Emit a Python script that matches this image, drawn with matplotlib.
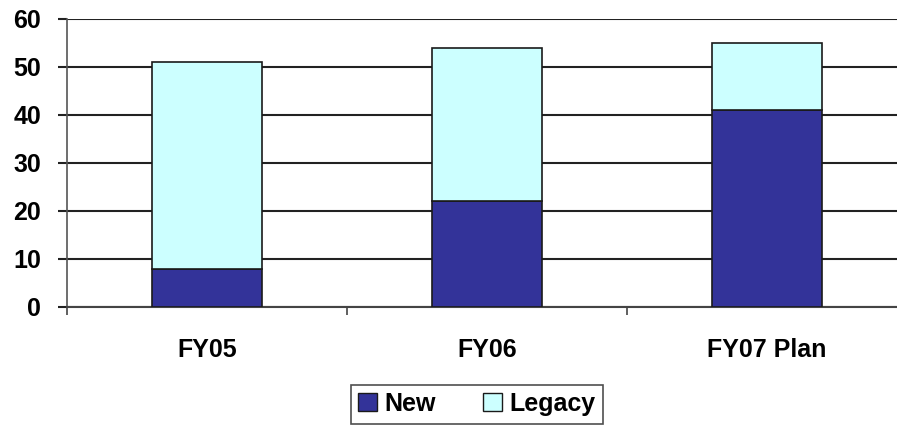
import numpy as np
import matplotlib
matplotlib.use("Agg")
import matplotlib.pyplot as plt
from matplotlib.patches import Patch

categories = ["FY05", "FY06", "FY07 Plan"]
new_vals = [8, 22, 41]
legacy_vals = [43, 32, 14]

plt.rcParams["font.family"] = ["Liberation Sans", "DejaVu Sans"]
plt.rcParams["font.weight"] = "bold"

W, H = 897, 425
fig = plt.figure(figsize=(W / 100, H / 100), dpi=100)
# axes run a bit past the right edge of the figure
ax = fig.add_axes([67 / W, (H - 307) / H, (907 - 67) / W, (307 - 19) / H])

x = np.arange(len(categories))
width = 0.39
ax.bar(x, new_vals, width, color="#333399", edgecolor="#1a1a1a", linewidth=1.2, zorder=3)
ax.bar(x, legacy_vals, width, bottom=new_vals, color="#CCFFFF", edgecolor="#1a1a1a",
       linewidth=1.2, zorder=3)

ax.set_xlim(-0.5, 2.5)
ax.set_ylim(0, 60)
ax.set_yticks(range(0, 61, 10))
ax.yaxis.grid(True, color="#222222", linewidth=1.5, zorder=0)
ax.set_axisbelow(True)

ax.set_xticks(x)
ax.set_xticklabels(categories)
ax.set_xticks([-0.5, 0.5, 1.5], minor=True)
ax.tick_params(axis="x", which="major", length=0, pad=22, labelsize=18)
ax.tick_params(axis="x", which="minor", length=6, width=1.2, color="#444444")
ax.tick_params(axis="y", length=6.5, width=1.5, color="#222222", pad=12, labelsize=18)

for s in ["top", "right"]:
    ax.spines[s].set_visible(False)
ax.spines["left"].set_color("#555555")
ax.spines["left"].set_linewidth(1.2)
ax.spines["bottom"].set_color("#444444")
ax.spines["bottom"].set_linewidth(1.5)

handles = [Patch(facecolor="#333399", edgecolor="#1a1a1a", label="New"),
           Patch(facecolor="#CCFFFF", edgecolor="#1a1a1a", label="Legacy")]
leg = fig.legend(handles=handles, loc="center", bbox_to_anchor=(477 / W, (H - 404) / H),
                 ncol=2, fontsize=18, frameon=True, fancybox=False, handlelength=0.75,
                 handleheight=0.75, handletextpad=0.3, columnspacing=1.9, borderpad=0.3,
                 borderaxespad=0)
leg.get_frame().set_edgecolor("#222222")
leg.get_frame().set_linewidth(1.2)

fig.savefig("out.png", dpi=100)
